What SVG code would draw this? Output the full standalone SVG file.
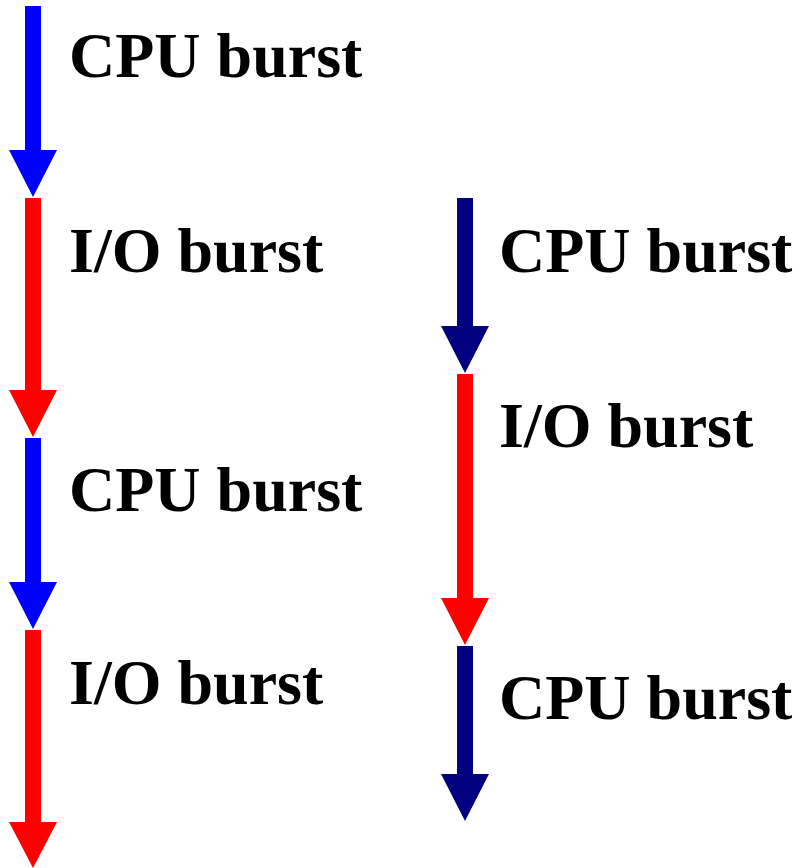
<svg xmlns="http://www.w3.org/2000/svg" width="800" height="868" viewBox="0 0 800 868">
  <style>
    .lbl { font-family: "Liberation Serif", "Times New Roman", serif; font-weight: bold; font-size: 64px; fill: #000000; }
    .cpu { fill: #0000FF; }
    .io { fill: #FF0000; }
    .cpu2 { fill: #000080; }
  </style>
  <rect width="800" height="868" fill="#FFFFFF"/>
  <!-- each burst arrow: 16px shaft, 48px wide head, 47px tall head -->
  <g id="connectors">
    <!-- left column -->
    <path class="cpu" d="M25,6 H41 V150 H57 L33,197 L9,150 H25 Z"/>
    <path class="io" d="M25,198 H41 V390 H57 L33,437 L9,390 H25 Z"/>
    <path class="cpu" d="M25,438 H41 V582 H57 L33,629 L9,582 H25 Z"/>
    <path class="io" d="M25,630 H41 V822 H57 L33,868 L9,822 H25 Z"/>
    <!-- right column -->
    <path class="cpu2" d="M457,198 H473 V326 H489 L465,373 L441,326 H457 Z"/>
    <path class="io" d="M457,374 H473 V598 H489 L465,645 L441,598 H457 Z"/>
    <path class="cpu2" d="M457,646 H473 V774 H489 L465,821 L441,774 H457 Z"/>
  </g>
  <g id="label-cpu-1"><text class="lbl" x="69" y="77">CPU burst</text></g>
  <g id="label-io-1"><text class="lbl" x="69" y="272">I/O burst</text></g>
  <g id="label-cpu-2"><text class="lbl" x="69" y="511">CPU burst</text></g>
  <g id="label-io-2"><text class="lbl" x="69" y="704">I/O burst</text></g>
  <g id="label-cpu-3"><text class="lbl" x="499" y="272">CPU burst</text></g>
  <g id="label-io-3"><text class="lbl" x="499" y="447">I/O burst</text></g>
  <g id="label-cpu-4"><text class="lbl" x="499" y="719">CPU burst</text></g>
</svg>
